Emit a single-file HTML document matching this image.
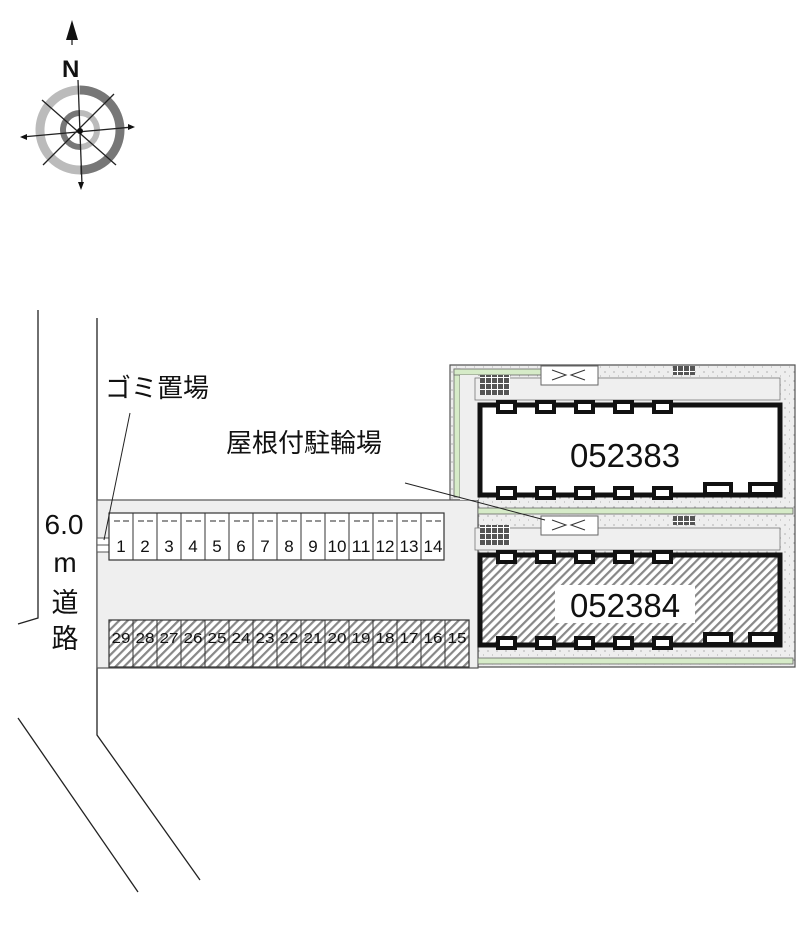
<!DOCTYPE html>
<html><head><meta charset="utf-8"><style>
html,body{margin:0;padding:0;background:#fff;}
svg{display:block;}
text{font-family:"Liberation Sans","Noto Sans CJK JP",sans-serif;fill:#111;}
</style></head><body>
<svg width="800" height="940" viewBox="0 0 800 940" xmlns="http://www.w3.org/2000/svg">
<defs>
<pattern id="h" width="6" height="6" patternUnits="userSpaceOnUse" patternTransform="rotate(45)">
<rect width="6" height="6" fill="#fff"/><rect width="2.2" height="6" fill="#888"/></pattern>
<pattern id="d" width="9" height="9" patternUnits="userSpaceOnUse">
<rect width="9" height="9" fill="#eee"/><circle cx="2" cy="3" r="0.6" fill="#888"/><circle cx="6.5" cy="7" r="0.5" fill="#999"/></pattern>
<pattern id="g" width="6" height="6" patternUnits="userSpaceOnUse">
<rect width="6" height="6" fill="#fff"/><rect width="5" height="5" fill="#555"/></pattern>
</defs>
<!-- compass -->
<g stroke-width="9" fill="none">
<path d="M80,90 A40,40 0 0 1 120,130 A40,40 0 0 1 80,170" stroke="#777"/>
<path d="M80,170 A40,40 0 0 1 40,130 A40,40 0 0 1 80,90" stroke="#bbb"/>
<path d="M80,113 A17,17 0 0 1 97,130 A17,17 0 0 1 80,147" stroke="#bbb" stroke-width="6"/>
<path d="M80,147 A17,17 0 0 1 63,130 A17,17 0 0 1 80,113" stroke="#777" stroke-width="6"/>
</g>
<g stroke="#222" stroke-width="1.3">
<line x1="78" y1="80" x2="82" y2="185"/><line x1="22" y1="137" x2="133" y2="127"/>
<line x1="42" y1="100" x2="116" y2="165"/><line x1="43" y1="165" x2="114" y2="94"/>
<line x1="72" y1="30" x2="72" y2="45"/>
</g>
<polygon points="72,20 66,40 78,40" fill="#111"/>
<polygon points="81,190 78,182 84,182" fill="#111"/>
<polygon points="135,127 128,124 128,130" fill="#111"/>
<polygon points="20,137 27,134 27,140" fill="#111"/>
<circle cx="80" cy="131" r="3" fill="#111"/>
<text x="62" y="77" font-family="Liberation Serif,serif" font-weight="bold" font-size="24">N</text>
<!-- roads -->
<g stroke="#222" stroke-width="1.3" fill="none">
<polyline points="38,310 38,618 18,624"/>
<polyline points="97,318 97,735 200,880"/>
<line x1="18" y1="718" x2="138" y2="892"/>
</g>
<!-- building site -->
<polygon points="450,365 795,365 795,667 478,667 478,500 450,500" fill="url(#d)" stroke="#555" stroke-width="1.2"/>
<!-- lot -->
<rect x="97" y="500" width="381" height="168" fill="#efefef" stroke="#555" stroke-width="1.2"/>
<rect x="97" y="538" width="12" height="7" fill="#fff" stroke="#555"/>
<rect x="97" y="545" width="12" height="7" fill="#fff" stroke="#555"/>
<!-- bike rows -->
<g stroke="#333" stroke-width="1.2">
<rect x="109" y="513" width="335" height="47" fill="#fff"/>
<rect x="109" y="620" width="360" height="47" fill="url(#h)"/>
</g>
<g stroke="#333" stroke-width="1">
<line x1="133" y1="513" x2="133" y2="560"/><line x1="157" y1="513" x2="157" y2="560"/><line x1="181" y1="513" x2="181" y2="560"/><line x1="205" y1="513" x2="205" y2="560"/><line x1="229" y1="513" x2="229" y2="560"/><line x1="253" y1="513" x2="253" y2="560"/><line x1="277" y1="513" x2="277" y2="560"/><line x1="301" y1="513" x2="301" y2="560"/><line x1="325" y1="513" x2="325" y2="560"/><line x1="349" y1="513" x2="349" y2="560"/><line x1="373" y1="513" x2="373" y2="560"/><line x1="397" y1="513" x2="397" y2="560"/><line x1="421" y1="513" x2="421" y2="560"/>
<line x1="133" y1="620" x2="133" y2="667"/><line x1="157" y1="620" x2="157" y2="667"/><line x1="181" y1="620" x2="181" y2="667"/><line x1="205" y1="620" x2="205" y2="667"/><line x1="229" y1="620" x2="229" y2="667"/><line x1="253" y1="620" x2="253" y2="667"/><line x1="277" y1="620" x2="277" y2="667"/><line x1="301" y1="620" x2="301" y2="667"/><line x1="325" y1="620" x2="325" y2="667"/><line x1="349" y1="620" x2="349" y2="667"/><line x1="373" y1="620" x2="373" y2="667"/><line x1="397" y1="620" x2="397" y2="667"/><line x1="421" y1="620" x2="421" y2="667"/><line x1="445" y1="620" x2="445" y2="667"/>
</g>
<g stroke="#555" stroke-width="1.2">
<path d="M114,521h6M123,521h6M138,521h6M147,521h6M162,521h6M171,521h6M186,521h6M195,521h6M210,521h6M219,521h6M234,521h6M243,521h6M258,521h6M267,521h6M282,521h6M291,521h6M306,521h6M315,521h6M330,521h6M339,521h6M354,521h6M363,521h6M378,521h6M387,521h6M402,521h6M411,521h6M426,521h6M435,521h6"/>
</g>
<g font-size="17" text-anchor="middle" lengthAdjust="spacingAndGlyphs">
<text x="121" y="552">1</text><text x="145" y="552">2</text><text x="169" y="552">3</text><text x="193" y="552">4</text><text x="217" y="552">5</text><text x="241" y="552">6</text><text x="265" y="552">7</text><text x="289" y="552">8</text><text x="313" y="552">9</text>
<text x="337" y="552" textLength="19" lengthAdjust="spacingAndGlyphs">10</text><text x="361" y="552" textLength="19" lengthAdjust="spacingAndGlyphs">11</text><text x="385" y="552" textLength="19" lengthAdjust="spacingAndGlyphs">12</text><text x="409" y="552" textLength="19" lengthAdjust="spacingAndGlyphs">13</text><text x="433" y="552" textLength="19" lengthAdjust="spacingAndGlyphs">14</text>
</g>
<g font-size="15" text-anchor="middle">
<text x="121" y="643" textLength="19" lengthAdjust="spacingAndGlyphs">29</text><text x="145" y="643" textLength="19" lengthAdjust="spacingAndGlyphs">28</text><text x="169" y="643" textLength="19" lengthAdjust="spacingAndGlyphs">27</text><text x="193" y="643" textLength="19" lengthAdjust="spacingAndGlyphs">26</text><text x="217" y="643" textLength="19" lengthAdjust="spacingAndGlyphs">25</text><text x="241" y="643" textLength="19" lengthAdjust="spacingAndGlyphs">24</text><text x="265" y="643" textLength="19" lengthAdjust="spacingAndGlyphs">23</text><text x="289" y="643" textLength="19" lengthAdjust="spacingAndGlyphs">22</text><text x="313" y="643" textLength="19" lengthAdjust="spacingAndGlyphs">21</text><text x="337" y="643" textLength="19" lengthAdjust="spacingAndGlyphs">20</text><text x="361" y="643" textLength="19" lengthAdjust="spacingAndGlyphs">19</text><text x="385" y="643" textLength="19" lengthAdjust="spacingAndGlyphs">18</text><text x="409" y="643" textLength="19" lengthAdjust="spacingAndGlyphs">17</text><text x="433" y="643" textLength="19" lengthAdjust="spacingAndGlyphs">16</text><text x="457" y="643" textLength="19" lengthAdjust="spacingAndGlyphs">15</text>
</g>
<!-- site details -->
<rect x="454" y="369" width="6" height="128" fill="#d6ebc8" stroke="#666" stroke-width="0.8"/>
<rect x="454" y="369" width="90" height="6" fill="#d6ebc8" stroke="#666" stroke-width="0.8"/>
<rect x="478" y="508" width="315" height="6" fill="#d6ebc8" stroke="#666" stroke-width="0.8"/>
<rect x="478" y="658" width="315" height="6" fill="#d6ebc8" stroke="#666" stroke-width="0.8"/>
<rect x="460" y="375" width="18" height="125" fill="#efefef"/>
<rect x="475" y="378" width="305" height="22" fill="#efefef" stroke="#777" stroke-width="0.8"/>
<rect x="475" y="528" width="305" height="22" fill="#efefef" stroke="#777" stroke-width="0.8"/>
<rect x="480" y="375" width="30" height="20" fill="url(#g)"/>
<rect x="480" y="525" width="30" height="20" fill="url(#g)"/>
<rect x="673" y="366" width="22" height="9" fill="url(#g)"/>
<rect x="673" y="516" width="22" height="9" fill="url(#g)"/>
<rect x="541" y="366" width="57" height="19" fill="#fff" stroke="#666"/>
<rect x="541" y="516" width="57" height="19" fill="#fff" stroke="#666"/>
<g stroke="#333" stroke-width="1" fill="none">
<polyline points="552,370 566,375 552,380"/><polyline points="585,370 571,375 585,380"/>
<polyline points="552,520 566,525 552,530"/><polyline points="585,520 571,525 585,530"/>
</g>
<!-- buildings -->
<rect x="480" y="405" width="300" height="90" fill="#fff" stroke="#111" stroke-width="5"/>
<rect x="480" y="555" width="300" height="90" fill="url(#h)" stroke="#111" stroke-width="5"/>
<g fill="#fff" stroke="#111" stroke-width="4">
<rect x="498" y="402" width="17" height="10"/><rect x="537" y="402" width="17" height="10"/><rect x="576" y="402" width="17" height="10"/><rect x="615" y="402" width="17" height="10"/><rect x="654" y="402" width="17" height="10"/>
<rect x="498" y="488" width="17" height="10"/><rect x="537" y="488" width="17" height="10"/><rect x="576" y="488" width="17" height="10"/><rect x="615" y="488" width="17" height="10"/><rect x="654" y="488" width="17" height="10"/><rect x="705" y="484" width="26" height="10"/><rect x="750" y="484" width="26" height="10"/>
<rect x="498" y="552" width="17" height="10"/><rect x="537" y="552" width="17" height="10"/><rect x="576" y="552" width="17" height="10"/><rect x="615" y="552" width="17" height="10"/><rect x="654" y="552" width="17" height="10"/>
<rect x="498" y="638" width="17" height="10"/><rect x="537" y="638" width="17" height="10"/><rect x="576" y="638" width="17" height="10"/><rect x="615" y="638" width="17" height="10"/><rect x="654" y="638" width="17" height="10"/><rect x="705" y="634" width="26" height="10"/><rect x="750" y="634" width="26" height="10"/>
</g>
<rect x="555" y="585" width="140" height="38" fill="#fff"/>
<text x="625" y="467" font-size="33" text-anchor="middle">052383</text>
<text x="625" y="617" font-size="33" text-anchor="middle">052384</text>
<!-- labels -->
<g stroke="#222" stroke-width="1">
<line x1="130" y1="413" x2="104" y2="540"/>
<line x1="405" y1="483" x2="545" y2="520"/>
</g>
<text x="105" y="397" font-size="26">ゴミ置場</text>
<text x="226" y="452" font-size="26">屋根付駐輪場</text>
<text x="64" y="534" font-size="28" text-anchor="middle">6.0</text>
<text x="65" y="572" font-size="28" text-anchor="middle">m</text>
<text x="65" y="612" font-size="27" text-anchor="middle">道</text>
<text x="65" y="648" font-size="27" text-anchor="middle">路</text>
</svg>
</body></html>
